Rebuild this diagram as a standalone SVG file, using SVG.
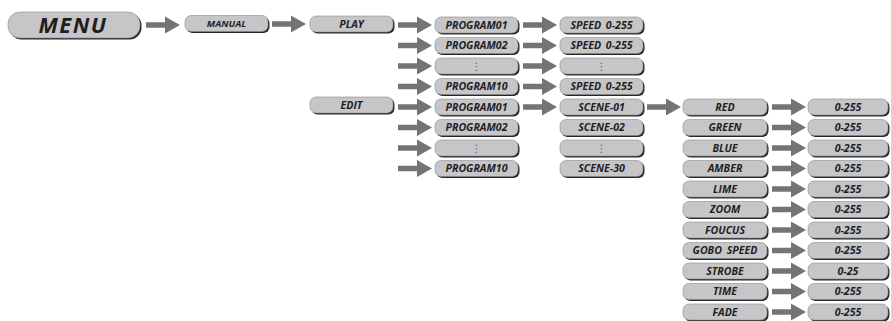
<svg xmlns="http://www.w3.org/2000/svg" xmlns:xlink="http://www.w3.org/1999/xlink" width="891" height="321" viewBox="0 0 891 321">
<defs>
<style>
.sh{fill:#262626}
.bx{fill:#c6c6c8;stroke:#8c8c8c;stroke-width:0.6}
.t{font-family:"Open Sans","DejaVu Sans",sans-serif;font-weight:700;font-style:italic;font-size:10.6px;fill:#1f1f1f;text-anchor:middle}
.d{font-family:"DejaVu Sans",sans-serif;font-size:10px;fill:#555;text-anchor:middle}
.a{fill:#747474}
</style>
<path id="arr" d="M0,-2.7 H19 V-8.5 L34,0 L19,8.5 V2.7 H0 Z"/>
</defs>
<rect width="891" height="321" fill="#ffffff"/>
<g id="connectors" class="a">
<use xlink:href="#arr" x="146" y="25"/>
<use xlink:href="#arr" x="272" y="24"/>
<use xlink:href="#arr" x="398" y="25"/>
<use xlink:href="#arr" x="398" y="45.5"/>
<use xlink:href="#arr" x="398" y="66"/>
<use xlink:href="#arr" x="398" y="86.5"/>
<use xlink:href="#arr" x="398" y="107"/>
<use xlink:href="#arr" x="398" y="127.5"/>
<use xlink:href="#arr" x="398" y="148"/>
<use xlink:href="#arr" x="398" y="168.5"/>
<use xlink:href="#arr" x="523" y="25"/>
<use xlink:href="#arr" x="523" y="45.5"/>
<use xlink:href="#arr" x="523" y="66"/>
<use xlink:href="#arr" x="523" y="86.5"/>
<use xlink:href="#arr" x="523" y="107"/>
<use xlink:href="#arr" x="647" y="107"/>
<use xlink:href="#arr" x="772" y="107"/>
<use xlink:href="#arr" x="772" y="127.5"/>
<use xlink:href="#arr" x="772" y="148"/>
<use xlink:href="#arr" x="772" y="168.5"/>
<use xlink:href="#arr" x="772" y="189"/>
<use xlink:href="#arr" x="772" y="209.5"/>
<use xlink:href="#arr" x="772" y="230"/>
<use xlink:href="#arr" x="772" y="250.5"/>
<use xlink:href="#arr" x="772" y="271"/>
<use xlink:href="#arr" x="772" y="291.5"/>
<use xlink:href="#arr" x="772" y="312"/>
</g>
<g id="menu"><rect class="sh" x="9.5" y="13.5" width="132" height="26" rx="12"/><rect class="bx" x="8" y="12" width="132" height="26" rx="12"/><text class="t" x="73" y="33" style="font-size:22px;letter-spacing:1.5px">MENU</text></g>
<g id="manual"><rect class="sh" x="186.5" y="17" width="83" height="16" rx="6"/><rect class="bx" x="185" y="15.5" width="83" height="16" rx="6"/><text class="t" x="226.5" y="27" style="font-size:9.6px">MANUAL</text></g>
<g id="play"><rect class="sh" x="311.5" y="17.5" width="83" height="16" rx="6"/><rect class="bx" x="310" y="16" width="83" height="16" rx="6"/><text class="t" x="351.5" y="27.8">PLAY</text></g>
<g id="edit"><rect class="sh" x="311.5" y="98.5" width="83" height="16" rx="6"/><rect class="bx" x="310" y="97" width="83" height="16" rx="6"/><text class="t" x="351.5" y="108.8">EDIT</text></g>

<g id="play-program01"><rect class="sh" x="436.5" y="18.5" width="83" height="16" rx="6"/><rect class="bx" x="435" y="17" width="83" height="16" rx="6"/><text class="t" x="476.5" y="28.8">PROGRAM01</text></g>
<g id="play-program02"><rect class="sh" x="436.5" y="39" width="83" height="16" rx="6"/><rect class="bx" x="435" y="37.5" width="83" height="16" rx="6"/><text class="t" x="476.5" y="49.3">PROGRAM02</text></g>
<g id="play-programdots"><rect class="sh" x="436.5" y="59.5" width="83" height="16" rx="6"/><rect class="bx" x="435" y="58" width="83" height="16" rx="6"/><text class="d" x="476.5" y="69.6">⋮</text></g>
<g id="play-program10"><rect class="sh" x="436.5" y="80" width="83" height="16" rx="6"/><rect class="bx" x="435" y="78.5" width="83" height="16" rx="6"/><text class="t" x="476.5" y="90.3">PROGRAM10</text></g>
<g id="edit-program01"><rect class="sh" x="436.5" y="100.5" width="83" height="16" rx="6"/><rect class="bx" x="435" y="99" width="83" height="16" rx="6"/><text class="t" x="476.5" y="110.8">PROGRAM01</text></g>
<g id="edit-program02"><rect class="sh" x="436.5" y="121" width="83" height="16" rx="6"/><rect class="bx" x="435" y="119.5" width="83" height="16" rx="6"/><text class="t" x="476.5" y="131.3">PROGRAM02</text></g>
<g id="edit-programdots"><rect class="sh" x="436.5" y="141.5" width="83" height="16" rx="6"/><rect class="bx" x="435" y="140" width="83" height="16" rx="6"/><text class="d" x="476.5" y="151.6">⋮</text></g>
<g id="edit-program10"><rect class="sh" x="436.5" y="162" width="83" height="16" rx="6"/><rect class="bx" x="435" y="160.5" width="83" height="16" rx="6"/><text class="t" x="476.5" y="172.3">PROGRAM10</text></g>

<g id="speed1"><rect class="sh" x="561.5" y="18.5" width="83" height="16" rx="6"/><rect class="bx" x="560" y="17" width="83" height="16" rx="6"/><text class="t" x="601.5" y="28.8" style="word-spacing:2px">SPEED 0-255</text></g>
<g id="speed2"><rect class="sh" x="561.5" y="39" width="83" height="16" rx="6"/><rect class="bx" x="560" y="37.5" width="83" height="16" rx="6"/><text class="t" x="601.5" y="49.3" style="word-spacing:2px">SPEED 0-255</text></g>
<g id="speeddots"><rect class="sh" x="561.5" y="59.5" width="83" height="16" rx="6"/><rect class="bx" x="560" y="58" width="83" height="16" rx="6"/><text class="d" x="601.5" y="69.6">⋮</text></g>
<g id="speed10"><rect class="sh" x="561.5" y="80" width="83" height="16" rx="6"/><rect class="bx" x="560" y="78.5" width="83" height="16" rx="6"/><text class="t" x="601.5" y="90.3" style="word-spacing:2px">SPEED 0-255</text></g>
<g id="scene01"><rect class="sh" x="561.5" y="100.5" width="83" height="16" rx="6"/><rect class="bx" x="560" y="99" width="83" height="16" rx="6"/><text class="t" x="601.5" y="110.8">SCENE-01</text></g>
<g id="scene02"><rect class="sh" x="561.5" y="121" width="83" height="16" rx="6"/><rect class="bx" x="560" y="119.5" width="83" height="16" rx="6"/><text class="t" x="601.5" y="131.3">SCENE-02</text></g>
<g id="scenedots"><rect class="sh" x="561.5" y="141.5" width="83" height="16" rx="6"/><rect class="bx" x="560" y="140" width="83" height="16" rx="6"/><text class="d" x="601.5" y="151.6">⋮</text></g>
<g id="scene30"><rect class="sh" x="561.5" y="162" width="83" height="16" rx="6"/><rect class="bx" x="560" y="160.5" width="83" height="16" rx="6"/><text class="t" x="601.5" y="172.3">SCENE-30</text></g>

<g id="red"><rect class="sh" x="684.5" y="100.5" width="84" height="16" rx="6"/><rect class="bx" x="683" y="99" width="84" height="16" rx="6"/><text class="t" x="725" y="110.8">RED</text></g>
<g id="green"><rect class="sh" x="684.5" y="121" width="84" height="16" rx="6"/><rect class="bx" x="683" y="119.5" width="84" height="16" rx="6"/><text class="t" x="725" y="131.3">GREEN</text></g>
<g id="blue"><rect class="sh" x="684.5" y="141.5" width="84" height="16" rx="6"/><rect class="bx" x="683" y="140" width="84" height="16" rx="6"/><text class="t" x="725" y="151.8">BLUE</text></g>
<g id="amber"><rect class="sh" x="684.5" y="162" width="84" height="16" rx="6"/><rect class="bx" x="683" y="160.5" width="84" height="16" rx="6"/><text class="t" x="725" y="172.3">AMBER</text></g>
<g id="lime"><rect class="sh" x="684.5" y="182.5" width="84" height="16" rx="6"/><rect class="bx" x="683" y="181" width="84" height="16" rx="6"/><text class="t" x="725" y="192.8">LIME</text></g>
<g id="zoom"><rect class="sh" x="684.5" y="203" width="84" height="16" rx="6"/><rect class="bx" x="683" y="201.5" width="84" height="16" rx="6"/><text class="t" x="725" y="213.3">ZOOM</text></g>
<g id="foucus"><rect class="sh" x="684.5" y="223.5" width="84" height="16" rx="6"/><rect class="bx" x="683" y="222" width="84" height="16" rx="6"/><text class="t" x="725" y="233.8">FOUCUS</text></g>
<g id="gobo-speed"><rect class="sh" x="684.5" y="244" width="84" height="16" rx="6"/><rect class="bx" x="683" y="242.5" width="84" height="16" rx="6"/><text class="t" x="725" y="254.3" style="word-spacing:2px">GOBO SPEED</text></g>
<g id="strobe"><rect class="sh" x="684.5" y="264.5" width="84" height="16" rx="6"/><rect class="bx" x="683" y="263" width="84" height="16" rx="6"/><text class="t" x="725" y="274.8">STROBE</text></g>
<g id="time"><rect class="sh" x="684.5" y="285" width="84" height="16" rx="6"/><rect class="bx" x="683" y="283.5" width="84" height="16" rx="6"/><text class="t" x="725" y="295.3">TIME</text></g>
<g id="fade"><rect class="sh" x="684.5" y="305.5" width="84" height="16" rx="6"/><rect class="bx" x="683" y="304" width="84" height="16" rx="6"/><text class="t" x="725" y="315.8">FADE</text></g>

<g id="v-red"><rect class="sh" x="809.5" y="100.5" width="80" height="16" rx="6"/><rect class="bx" x="808" y="99" width="80" height="16" rx="6"/><text class="t" x="848" y="110.8">0-255</text></g>
<g id="v-green"><rect class="sh" x="809.5" y="121" width="80" height="16" rx="6"/><rect class="bx" x="808" y="119.5" width="80" height="16" rx="6"/><text class="t" x="848" y="131.3">0-255</text></g>
<g id="v-blue"><rect class="sh" x="809.5" y="141.5" width="80" height="16" rx="6"/><rect class="bx" x="808" y="140" width="80" height="16" rx="6"/><text class="t" x="848" y="151.8">0-255</text></g>
<g id="v-amber"><rect class="sh" x="809.5" y="162" width="80" height="16" rx="6"/><rect class="bx" x="808" y="160.5" width="80" height="16" rx="6"/><text class="t" x="848" y="172.3">0-255</text></g>
<g id="v-lime"><rect class="sh" x="809.5" y="182.5" width="80" height="16" rx="6"/><rect class="bx" x="808" y="181" width="80" height="16" rx="6"/><text class="t" x="848" y="192.8">0-255</text></g>
<g id="v-zoom"><rect class="sh" x="809.5" y="203" width="80" height="16" rx="6"/><rect class="bx" x="808" y="201.5" width="80" height="16" rx="6"/><text class="t" x="848" y="213.3">0-255</text></g>
<g id="v-foucus"><rect class="sh" x="809.5" y="223.5" width="80" height="16" rx="6"/><rect class="bx" x="808" y="222" width="80" height="16" rx="6"/><text class="t" x="848" y="233.8">0-255</text></g>
<g id="v-gobo-speed"><rect class="sh" x="809.5" y="244" width="80" height="16" rx="6"/><rect class="bx" x="808" y="242.5" width="80" height="16" rx="6"/><text class="t" x="848" y="254.3">0-255</text></g>
<g id="v-strobe"><rect class="sh" x="809.5" y="264.5" width="80" height="16" rx="6"/><rect class="bx" x="808" y="263" width="80" height="16" rx="6"/><text class="t" x="848" y="274.8">0-25</text></g>
<g id="v-time"><rect class="sh" x="809.5" y="285" width="80" height="16" rx="6"/><rect class="bx" x="808" y="283.5" width="80" height="16" rx="6"/><text class="t" x="848" y="295.3">0-255</text></g>
<g id="v-fade"><rect class="sh" x="809.5" y="305.5" width="80" height="16" rx="6"/><rect class="bx" x="808" y="304" width="80" height="16" rx="6"/><text class="t" x="848" y="315.8">0-255</text></g>
</svg>
